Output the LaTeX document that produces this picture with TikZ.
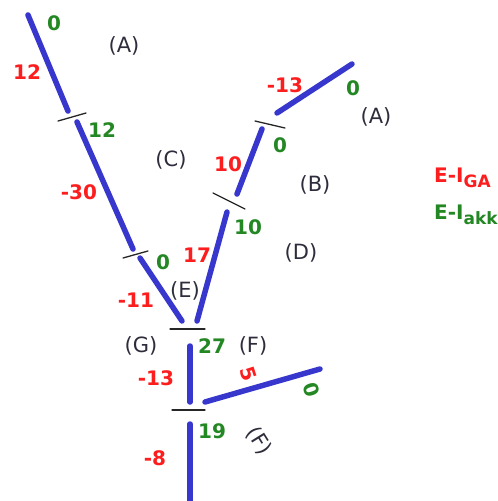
\documentclass[tikz,border=0pt]{standalone}
\usepackage{fontspec}
\setmainfont{DejaVu Sans}
\definecolor{pipeblue}{RGB}{55,55,205}
\definecolor{gared}{RGB}{252,30,30}
\definecolor{akkgreen}{RGB}{35,135,35}
\definecolor{secgray}{RGB}{45,45,60}

\begin{document}
\begin{tikzpicture}[x=1pt,y=-1pt,line cap=round,line join=round,
  pipe/.style={line width=5.5pt,pipeblue},
  cut/.style={line width=1.3pt,black!85},
  ganum/.style={inner sep=0pt,text=gared,font=\fontsize{20}{20}\selectfont\bfseries},
  akknum/.style={inner sep=0pt,text=akkgreen,font=\fontsize{20}{20}\selectfont\bfseries},
  sec/.style={inner sep=0pt,text=secgray,font=\fontsize{21}{21}\selectfont}]
  \useasboundingbox (0,0) rectangle (498,501);

  % Pipe end points (left branch, right branch, trunk)
  \coordinate (lTop) at (28,15);
  \coordinate (lA) at (68,111);
  \coordinate (lB) at (77,122);
  \coordinate (lC) at (133,249);
  \coordinate (lD) at (140,258);
  \coordinate (lE) at (182,321);
  \coordinate (rE) at (197,321);
  \coordinate (rD) at (227,212);
  \coordinate (rC) at (237,194);
  \coordinate (rB) at (262,129);
  \coordinate (rA) at (277,113);
  \coordinate (rTop) at (352,64);
  \coordinate (mA) at (190,346);
  \coordinate (mB) at (190,402);
  \coordinate (fA) at (205,402);
  \coordinate (fB) at (320,369);
  \coordinate (mC) at (190,424);
  \coordinate (mBot) at (190,510);

  % Pipes
  \foreach \a/\b in {lTop/lA,lB/lC,lD/lE,rE/rD,rC/rB,rA/rTop,mA/mB,fA/fB,mC/mBot}
    \draw[pipe] (\a) -- (\b);

  % Cuts between sections
  \coordinate (k1a) at (58,121);  \coordinate (k1b) at (86,113);
  \coordinate (k2a) at (123,258); \coordinate (k2b) at (148,251);
  \coordinate (k3a) at (213,193); \coordinate (k3b) at (245,209);
  \coordinate (k4a) at (255,121); \coordinate (k4b) at (285,128);
  \coordinate (k5a) at (170,329); \coordinate (k5b) at (205,329);
  \coordinate (k6a) at (172,410); \coordinate (k6b) at (205,410);
  \foreach \k in {1,...,6}
    \draw[cut] (k\k a) -- (k\k b);

  % Section letters
  \node[sec] (secA1) at (124,46) {(A)};
  \node[sec] (secA2) at (376,117) {(A)};
  \node[sec] (secB) at (315,185) {(B)};
  \node[sec] (secC) at (171,160) {(C)};
  \node[sec] (secD) at (301,253) {(D)};
  \node[sec] (secE) at (185,291) {(E)};
  \node[sec] (secG) at (141,346) {(G)};
  \node[sec] (secF1) at (253,346) {(F)};
  \node[sec,rotate=-58] (secF2) at (259,441) {(F)};

  % E-I_GA values
  \node[ganum] (ga1) at (27,72) {12};
  \node[ganum] (ga2) at (79,192) {-30};
  \node[ganum] (ga3) at (136,300) {-11};
  \node[ganum] (ga4) at (197,255) {17};
  \node[ganum] (ga5) at (228,164) {10};
  \node[ganum] (ga6) at (285,85) {-13};
  \node[ganum] (ga7) at (156,378) {-13};
  \node[ganum,rotate=-72] (ga8) at (248,374) {5};
  \node[ganum] (ga9) at (155,458) {-8};

  % E-I_akk values
  \node[akknum] (akk1) at (54,23) {0};
  \node[akknum] (akk2) at (102,130) {12};
  \node[akknum] (akk3) at (163,262) {0};
  \node[akknum] (akk4) at (248,227) {10};
  \node[akknum] (akk5) at (280,145) {0};
  \node[akknum] (akk6) at (353,88) {0};
  \node[akknum] (akk7) at (212,346) {27};
  \node[akknum,rotate=-72] (akk8) at (312,390) {0};
  \node[akknum] (akk9) at (212,431) {19};

  % Legend
  \node[ganum,anchor=west,font=\fontsize{20}{20}\selectfont\bfseries] (lgGA) at (434,178)
    {E-I\raisebox{-5pt}{\fontsize{17}{17}\selectfont GA}};
  \node[akknum,anchor=west,font=\fontsize{20}{20}\selectfont\bfseries] (lgAkk) at (434,215)
    {E-I\raisebox{-5pt}{\fontsize{17}{17}\selectfont akk}};
\end{tikzpicture}
\end{document}
